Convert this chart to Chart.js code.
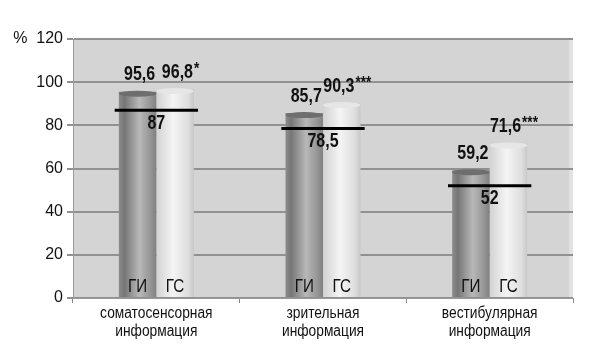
<!DOCTYPE html>
<html>
<head>
<meta charset="utf-8">
<script src="https://cdn.jsdelivr.net/npm/chart.js@4.4.1/dist/chart.umd.min.js"></script>
<style>
  html, body { margin: 0; padding: 0; background: #fff; }
  #wrap { width: 606px; height: 348px; position: relative; }
</style>
</head>
<body>
<div id="wrap"><canvas id="chart"></canvas></div>
<script>
// Data
const categories = [['соматосенсорная', 'информация'], ['зрительная', 'информация'], ['вестибулярная', 'информация']];
const giValues = [95.6, 85.7, 59.2];
const gsValues = [96.8, 90.3, 71.6];
const normValues = [87, 78.5, 52];
const gsMarks = ['*', '***', '***'];
const barNames = ['ГИ', 'ГС'];
const yTicks = [0, 20, 40, 60, 80, 100, 120];

const FONT = "'Liberation Sans', Arial, sans-serif";
const fmt = v => String(v).replace('.', ',');

// text squeezed horizontally, to look like Arial Narrow
function narrow(ctx, text, x, y, align, sx = 0.8) {
  ctx.save();
  ctx.translate(x, y);
  ctx.scale(sx, 1);
  ctx.textAlign = align;
  ctx.fillText(text, 0, 0);
  ctx.restore();
}

// cylinder shading for each bar
const shades = {
  0: [[0, '#8c8c8c'], [0.15, '#767676'], [0.55, '#b8b8b8'], [0.85, '#959595'], [1, '#808080']],
  1: [[0, '#d2d2d2'], [0.45, '#f4f4f4'], [0.85, '#dedede'], [1, '#c8c8c8']]
};
const capColors = { 0: '#6e6e6e', 1: '#e6e6e6' };

const plotBg = {
  id: 'plotBg',
  beforeDraw(chart) {
    const { ctx, chartArea: a } = chart;
    ctx.save();
    ctx.fillStyle = '#d4d4d4';
    ctx.fillRect(a.left, a.top, a.right - a.left, a.bottom - a.top);
    ctx.fillStyle = '#e2e2e2';
    ctx.fillRect(a.right - 4, a.top, 4, a.bottom - a.top);
    ctx.restore();
  }
};

const cylinders = {
  id: 'cylinders',
  beforeDatasetDraw(chart, args) {
    const i = args.index;
    if (!shades[i]) return;
    const { ctx } = chart;
    chart.getDatasetMeta(i).data.forEach(el => {
      const g = ctx.createLinearGradient(el.x - el.width / 2, 0, el.x + el.width / 2, 0);
      shades[i].forEach(([p, c]) => g.addColorStop(p, c));
      el.options.backgroundColor = g;
    });
  },
  afterDatasetDraw(chart, args) {
    const i = args.index;
    if (!capColors[i]) return;
    const { ctx } = chart;
    ctx.save();
    chart.getDatasetMeta(i).data.forEach(el => {
      ctx.fillStyle = capColors[i];
      ctx.beginPath();
      ctx.ellipse(el.x, el.y + 2, el.width / 2, 3, 0, 0, Math.PI * 2);
      ctx.fill();
    });
    ctx.restore();
  }
};

const labels = {
  id: 'labels',
  afterDatasetsDraw(chart) {
    const { ctx } = chart;
    const y = chart.scales.y;
    const x = chart.scales.x;
    ctx.save();
    ctx.fillStyle = '#111';
    ctx.textBaseline = 'middle';
    const gi = chart.getDatasetMeta(0).data;
    const gs = chart.getDatasetMeta(1).data;
    ctx.font = `bold 20px ${FONT}`;
    gi.forEach((el, k) => narrow(ctx, fmt(giValues[k]), el.x + 2, el.y - 17, 'center'));
    gs.forEach((el, k) => {
      ctx.font = `bold 20px ${FONT}`;
      const main = fmt(gsValues[k]);
      const w = ctx.measureText(main).width * 0.8;
      ctx.font = `bold 17px ${FONT}`;
      const w2 = ctx.measureText(gsMarks[k]).width * 0.8;
      const x0 = el.x - (w + w2) / 2 + 5;
      ctx.font = `bold 20px ${FONT}`;
      narrow(ctx, main, x0, el.y - 17, 'left');
      ctx.font = `bold 17px ${FONT}`;
      narrow(ctx, gsMarks[k], x0 + w + 1, el.y - 20, 'left');
    });
    // norm labels under the black lines
    ctx.font = `bold 20px ${FONT}`;
    chart.getDatasetMeta(2).data.forEach((el, k) => {
      narrow(ctx, fmt(normValues[k]), el.x, y.getPixelForValue(normValues[k]) + 13, 'center');
    });
    // group names at the foot of each bar
    ctx.font = `19px ${FONT}`;
    [gi, gs].forEach((bars, d) => {
      bars.forEach(el => narrow(ctx, barNames[d], el.x, y.getPixelForValue(0) - 11, 'center'));
    });
    // category names under the axis
    ctx.font = `16px ${FONT}`;
    categories.forEach((lines, k) => {
      const cx = x.getPixelForValue(k);
      lines.forEach((t, j) => narrow(ctx, t, cx, x.bottom - 34 + j * 18, 'center', 0.86));
    });
    ctx.restore();
  }
};

new Chart(document.getElementById('chart'), {
  type: 'bar',
  data: {
    labels: categories,
    datasets: [
      { label: barNames[0], data: giValues, backgroundColor: () => '#999', categoryPercentage: 0.45, barPercentage: 1, order: 2 },
      { label: barNames[1], data: gsValues, backgroundColor: () => '#e8e8e8', categoryPercentage: 0.45, barPercentage: 1, order: 2 },
      {
        label: 'норма',
        data: normValues.map(v => [v - 0.7, v + 0.7]),
        backgroundColor: '#000',
        grouped: false,
        categoryPercentage: 0.5,
        barPercentage: 1,
        order: 1
      }
    ]
  },
  options: {
    responsive: true,
    maintainAspectRatio: false,
    animation: false,
    layout: { padding: { top: 39, right: 33, left: 0, bottom: 0 } },
    plugins: { legend: { display: false }, tooltip: { enabled: false } },
    scales: {
      x: {
        grid: { drawOnChartArea: false, drawTicks: true, tickLength: 5, color: '#888', offset: true },
        border: { color: '#999', width: 1 },
        ticks: { display: false },
        afterFit: s => { s.height = 50; }
      },
      y: {
        min: 0,
        max: 120,
        afterBuildTicks: s => { s.ticks = yTicks.map(v => ({ value: v })); },
        grid: { color: '#919191', lineWidth: 2, tickLength: 6 },
        border: { color: '#999', width: 1 },
        ticks: {
          color: '#111',
          font: { family: FONT, size: 16 },
          padding: 4,
          callback: v => (v === 120 ? '%  120' : v)
        },
        afterFit: s => { s.width = 73; }
      }
    }
  },
  plugins: [plotBg, cylinders, labels]
});
</script>
</body>
</html>
